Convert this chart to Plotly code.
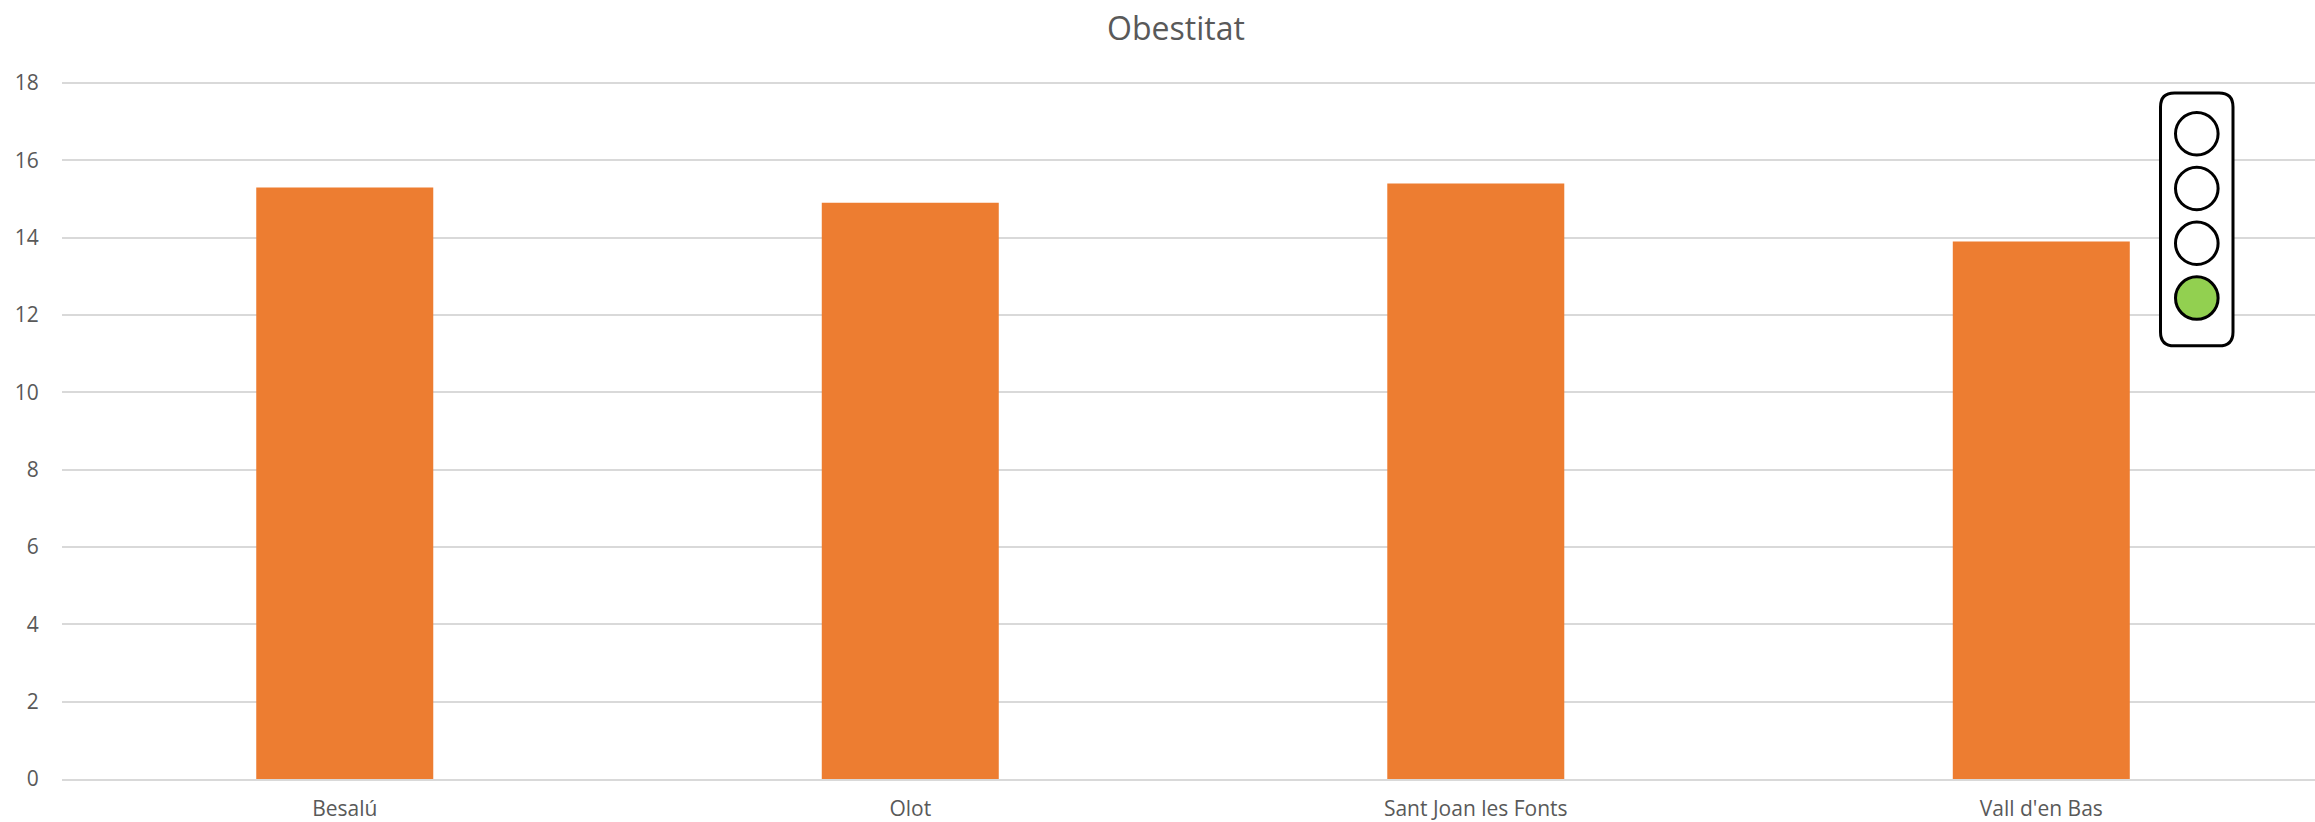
import plotly.graph_objects as go

categories = ["Besalú", "Olot", "Sant Joan les Fonts", "Vall d'en Bas"]
values = [15.3, 14.9, 15.4, 13.9]
y_ticks = [0, 2, 4, 6, 8, 10, 12, 14, 16, 18]
title_text = "Obestitat"

W, H = 2315, 822
L, R, T, B = 62, 0, 83, 40
FONT = "Open Sans, Noto Sans, sans-serif"
GREY = "#595959"


def px(x):
    return (x - L) / (W - L - R)


def py(y):
    return 1 - (y - T) / (H - T - B)


fig = go.Figure(
    go.Bar(x=categories, y=values, marker=dict(color="#ED7D31", line_width=0), width=0.313)
)

# top gridline (plotly drops the gridline sitting on the end of the range)
shapes = [dict(type="line", xref="paper", yref="paper", x0=0, x1=1, y0=1, y1=1,
               layer="below", line=dict(color="#D9D9D9", width=2))]
x0, x1, y0, y1, rad = 2160.5, 2233, 93, 347, 14
path = (
    f"M {px(x0 + rad)} {py(y0)} L {px(x1 - rad)} {py(y0)} "
    f"Q {px(x1)} {py(y0)} {px(x1)} {py(y0 + rad)} L {px(x1)} {py(y1 - rad)} "
    f"Q {px(x1)} {py(y1)} {px(x1 - rad)} {py(y1)} L {px(x0 + rad)} {py(y1)} "
    f"Q {px(x0)} {py(y1)} {px(x0)} {py(y1 - rad)} L {px(x0)} {py(y0 + rad)} "
    f"Q {px(x0)} {py(y0)} {px(x0 + rad)} {py(y0)} Z"
)
shapes.append(dict(type="path", xref="paper", yref="paper", path=path,
                   fillcolor="white", line=dict(color="black", width=3)))
for cy, fill in [(134, "white"), (189, "white"), (244, "white"), (299, "#92D050")]:
    cx, r = 2196.8, 21.3
    shapes.append(dict(type="circle", xref="paper", yref="paper",
                       x0=px(cx - r), x1=px(cx + r), y0=py(cy + r), y1=py(cy - r),
                       fillcolor=fill, line=dict(color="black", width=3)))

fig.update_layout(
    width=W, height=H, autosize=False,
    margin=dict(l=L, r=R, t=T, b=B, pad=0),
    paper_bgcolor="white", plot_bgcolor="white",
    showlegend=False, bargap=0.687,
    title=dict(text=title_text, x=1176 / W, xanchor="center", y=1 - 29 / H,
               yanchor="middle", font=dict(family=FONT, size=32, color=GREY)),
    font=dict(family=FONT, color=GREY, size=21),
    shapes=shapes,
    xaxis=dict(type="category", range=[-0.5, 3.484], showgrid=False, showline=True,
               linecolor="#D9D9D9", linewidth=2,
               ticks="outside", ticklen=10, tickcolor="rgba(0,0,0,0)",
               tickfont=dict(family=FONT, size=21, color=GREY), zeroline=False),
    yaxis=dict(range=[0, 18], tickvals=y_ticks, showgrid=True, gridcolor="#D9D9D9", gridwidth=2,
               zeroline=False, showline=False, ticks="outside", ticklen=18, tickcolor="rgba(0,0,0,0)",
               tickfont=dict(family=FONT, size=21, color=GREY)),
)

fig.write_html("out.html", config=dict(displayModeBar=False),
               post_script="document.body.style.margin='0';document.documentElement.style.overflow='hidden';")
